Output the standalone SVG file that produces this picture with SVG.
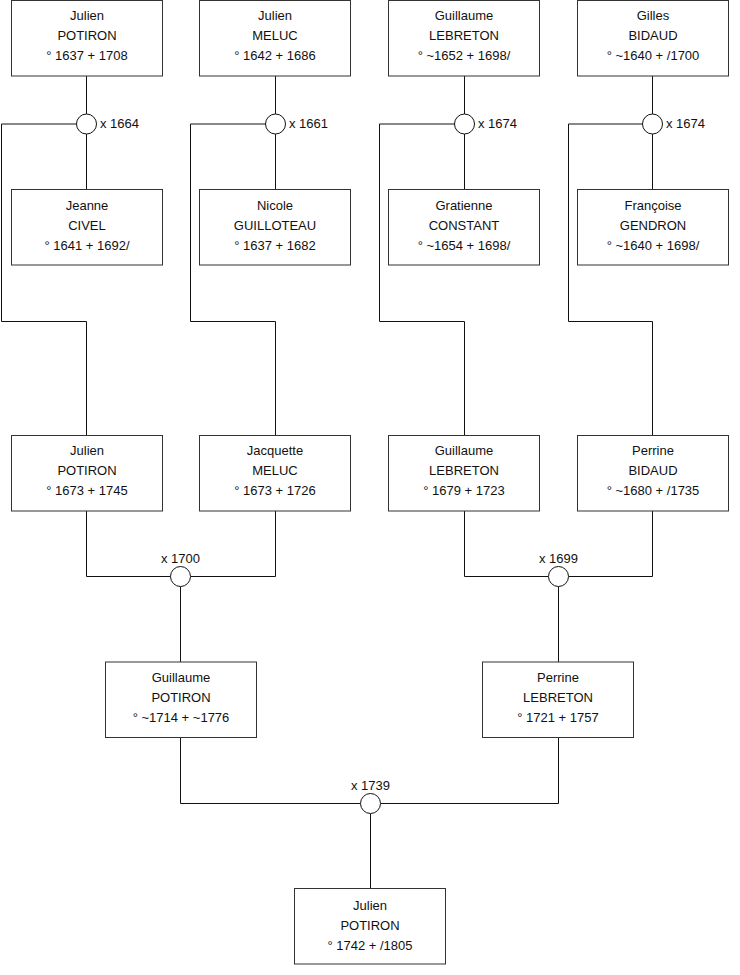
<svg xmlns="http://www.w3.org/2000/svg" width="740" height="975" viewBox="0 0 740 975">
<style>
.box{fill:#fff;stroke:#333;stroke-width:1}
.t{font-family:"Liberation Sans",Arial,sans-serif;font-size:13px;fill:#111;text-anchor:middle}
.l{font-family:"Liberation Sans",Arial,sans-serif;font-size:13px;fill:#111}
.c{fill:none;stroke:#111;stroke-width:1}
.m{fill:#fff;stroke:#111;stroke-width:1}
</style>
<rect width="740" height="975" fill="#fff"/>
<g id="connectors">
<path class="c" d="M86.5 76V114M86.5 134V189.5M76.5 124H1.5V321.5H86.5V435.5"/>
<path class="c" d="M275.5 76V114M275.5 134V189.5M265.5 124H190.5V321.5H275.5V435.5"/>
<path class="c" d="M464.5 76V114M464.5 134V189.5M454.5 124H379.5V321.5H464.5V435.5"/>
<path class="c" d="M652.5 76V114M652.5 134V189.5M642.5 124H568.5V321.5H652.5V435.5"/>
<path class="c" d="M86.5 511V576.5H171M190.5 576.5H275.5V511M180.5 586.5V662"/>
<path class="c" d="M464.5 511V576.5H548.5M568.5 576.5H652.5V511M558.5 586.5V662"/>
<path class="c" d="M180.5 737.5V803.5H360.5M380.5 803.5H558.5V737.5M370.5 813.5V888.5"/>
</g>
<g id="m1664"><circle class="m" cx="86.5" cy="124" r="10"/><text class="l" x="100" y="128">x 1664</text></g>
<g id="m1661"><circle class="m" cx="275.5" cy="124" r="10"/><text class="l" x="289" y="128">x 1661</text></g>
<g id="m1674a"><circle class="m" cx="464.5" cy="124" r="10"/><text class="l" x="478" y="128">x 1674</text></g>
<g id="m1674b"><circle class="m" cx="652.5" cy="124" r="10"/><text class="l" x="666" y="128">x 1674</text></g>
<g id="m1700"><circle class="m" cx="180.5" cy="576.5" r="10"/><text class="t" x="180.5" y="563">x 1700</text></g>
<g id="m1699"><circle class="m" cx="558.5" cy="576.5" r="10"/><text class="t" x="558.5" y="563">x 1699</text></g>
<g id="m1739"><circle class="m" cx="370.5" cy="803.5" r="10"/><text class="t" x="370.5" y="790">x 1739</text></g>

<g id="n1"><rect class="box" x="11.5" y="0.5" width="151" height="75.5"/><text class="t" x="87" y="20">Julien</text><text class="t" x="87" y="40">POTIRON</text><text class="t" x="87" y="60">° 1637 + 1708</text></g>
<g id="n2"><rect class="box" x="199.5" y="0.5" width="151" height="75.5"/><text class="t" x="275" y="20">Julien</text><text class="t" x="275" y="40">MELUC</text><text class="t" x="275" y="60">° 1642 + 1686</text></g>
<g id="n3"><rect class="box" x="388.5" y="0.5" width="151" height="75.5"/><text class="t" x="464" y="20">Guillaume</text><text class="t" x="464" y="40">LEBRETON</text><text class="t" x="464" y="60">° ~1652 + 1698/</text></g>
<g id="n4"><rect class="box" x="577.5" y="0.5" width="151" height="75.5"/><text class="t" x="653" y="20">Gilles</text><text class="t" x="653" y="40">BIDAUD</text><text class="t" x="653" y="60">° ~1640 + /1700</text></g>

<g id="n5"><rect class="box" x="11.5" y="189.5" width="151" height="75.5"/><text class="t" x="87" y="210">Jeanne</text><text class="t" x="87" y="230">CIVEL</text><text class="t" x="87" y="250">° 1641 + 1692/</text></g>
<g id="n6"><rect class="box" x="199.5" y="189.5" width="151" height="75.5"/><text class="t" x="275" y="210">Nicole</text><text class="t" x="275" y="230">GUILLOTEAU</text><text class="t" x="275" y="250">° 1637 + 1682</text></g>
<g id="n7"><rect class="box" x="388.5" y="189.5" width="151" height="75.5"/><text class="t" x="464" y="210">Gratienne</text><text class="t" x="464" y="230">CONSTANT</text><text class="t" x="464" y="250">° ~1654 + 1698/</text></g>
<g id="n8"><rect class="box" x="577.5" y="189.5" width="151" height="75.5"/><text class="t" x="653" y="210">Françoise</text><text class="t" x="653" y="230">GENDRON</text><text class="t" x="653" y="250">° ~1640 + 1698/</text></g>

<g id="n9"><rect class="box" x="11.5" y="435.5" width="151" height="75.5"/><text class="t" x="87" y="455">Julien</text><text class="t" x="87" y="475">POTIRON</text><text class="t" x="87" y="495">° 1673 + 1745</text></g>
<g id="n10"><rect class="box" x="199.5" y="435.5" width="151" height="75.5"/><text class="t" x="275" y="455">Jacquette</text><text class="t" x="275" y="475">MELUC</text><text class="t" x="275" y="495">° 1673 + 1726</text></g>
<g id="n11"><rect class="box" x="388.5" y="435.5" width="151" height="75.5"/><text class="t" x="464" y="455">Guillaume</text><text class="t" x="464" y="475">LEBRETON</text><text class="t" x="464" y="495">° 1679 + 1723</text></g>
<g id="n12"><rect class="box" x="577.5" y="435.5" width="151" height="75.5"/><text class="t" x="653" y="455">Perrine</text><text class="t" x="653" y="475">BIDAUD</text><text class="t" x="653" y="495">° ~1680 + /1735</text></g>

<g id="n13"><rect class="box" x="105.5" y="662" width="151" height="75.5"/><text class="t" x="181" y="682">Guillaume</text><text class="t" x="181" y="702">POTIRON</text><text class="t" x="181" y="722">° ~1714 + ~1776</text></g>
<g id="n14"><rect class="box" x="482.5" y="662" width="151" height="75.5"/><text class="t" x="558" y="682">Perrine</text><text class="t" x="558" y="702">LEBRETON</text><text class="t" x="558" y="722">° 1721 + 1757</text></g>

<g id="n15"><rect class="box" x="294.5" y="888.5" width="151" height="75.5"/><text class="t" x="370" y="910">Julien</text><text class="t" x="370" y="930">POTIRON</text><text class="t" x="370" y="950">° 1742 + /1805</text></g>
</svg>
